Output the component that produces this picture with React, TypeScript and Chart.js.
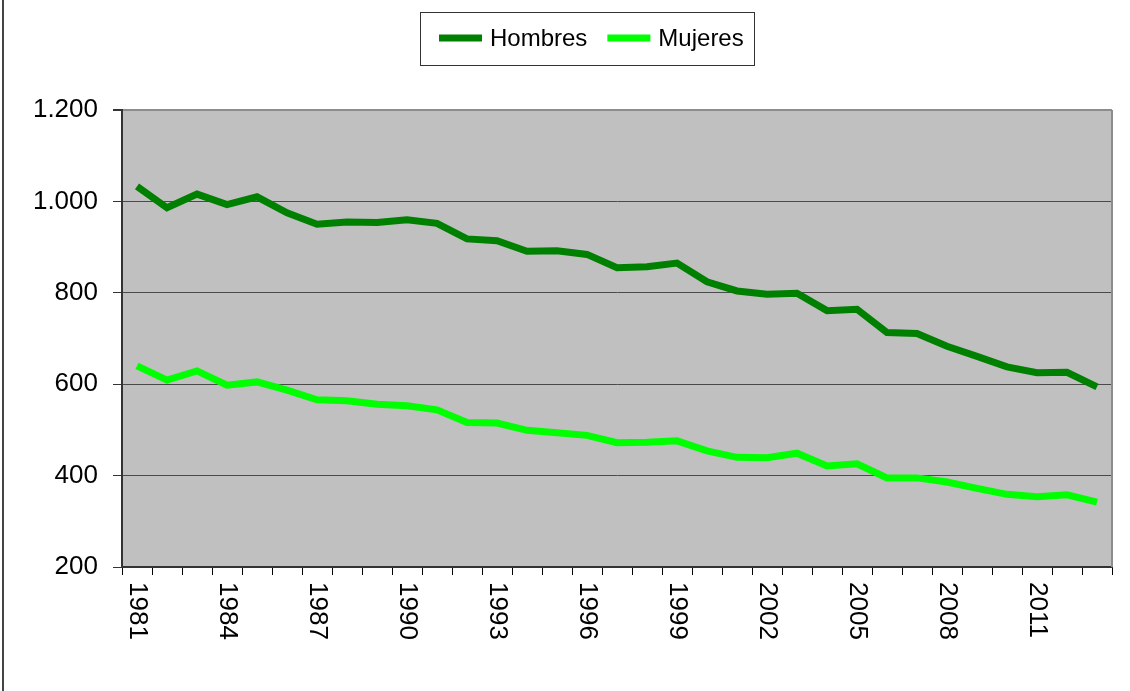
import React, { useEffect, useRef } from "react";
import { Chart, registerables } from "chart.js";

Chart.register(...registerables);

const years: string[] = [
  "1981", "1982", "1983", "1984", "1985", "1986", "1987", "1988", "1989", "1990",
  "1991", "1992", "1993", "1994", "1995", "1996", "1997", "1998", "1999", "2000",
  "2001", "2002", "2003", "2004", "2005", "2006", "2007", "2008", "2009", "2010",
  "2011", "2012", "2013",
];

const hombres: number[] = [
  1033, 986, 1016, 993, 1010, 975, 950, 955, 954, 960,
  952, 918, 914, 891, 892, 884, 855, 857, 865, 824,
  804, 797, 799, 761, 764, 713, 711, 683, 661, 638,
  625, 626, 594,
];

const mujeres: number[] = [
  640, 609, 629, 598, 605, 587, 566, 564, 556, 553,
  544, 516, 515, 499, 494, 488, 472, 473, 476, 454,
  440, 439, 449, 421, 426, 395, 395, 386, 372, 359,
  354, 358, 342,
];

const seriesNames: string[] = ["Hombres", "Mujeres"];
const yTicks: number[] = [200, 400, 600, 800, 1000, 1200];

const FONT = "'Liberation Sans', Arial, sans-serif";

function fmt(v: number): string {
  const s = String(Math.round(v));
  return s.replace(/\B(?=(\d{3})+(?!\d))/g, ".");
}

const decorPlugin = {
  id: "decor",
  beforeDraw(chart: any) {
    const { ctx, chartArea: a } = chart;
    ctx.save();
    ctx.fillStyle = "#C0C0C0";
    ctx.fillRect(a.left, a.top, a.right - a.left, a.bottom - a.top);
    ctx.restore();
  },
  beforeDatasetsDraw(chart: any) {
    const { ctx, chartArea: a } = chart;
    ctx.save();
    ctx.strokeStyle = "#8c8c8c";
    ctx.lineWidth = 2;
    ctx.beginPath();
    ctx.moveTo(a.right, a.top);
    ctx.lineTo(a.right, a.bottom);
    ctx.stroke();
    ctx.restore();
  },
  afterDraw(chart: any) {
    const { ctx, chartArea: a } = chart;
    const xs = chart.scales.x;
    ctx.save();
    ctx.fillStyle = "#000";
    ctx.font = `26px ${FONT}`;
    ctx.textAlign = "left";
    ctx.textBaseline = "middle";
    chart.data.labels.forEach((lab: string, i: number) => {
      if (i % 3 !== 0) return;
      const x = xs.getPixelForValue(i);
      ctx.save();
      ctx.translate(x, a.bottom + 15);
      ctx.rotate(Math.PI / 2);
      ctx.fillText(lab, 0, 0);
      ctx.restore();
    });
    ctx.restore();

    ctx.save();
    ctx.strokeStyle = "#333";
    ctx.lineWidth = 1;
    ctx.strokeRect(420.5, 12.5, 334, 53);
    ctx.font = `24px ${FONT}`;
    ctx.textBaseline = "middle";
    ctx.textAlign = "left";
    let x = 439;
    const y = 38;
    chart.data.datasets.forEach((ds: any) => {
      ctx.strokeStyle = ds.borderColor;
      ctx.lineWidth = 7;
      ctx.beginPath();
      ctx.moveTo(x, y);
      ctx.lineTo(x + 43, y);
      ctx.stroke();
      x += 51;
      ctx.fillStyle = "#000";
      ctx.fillText(ds.label, x, y + 1);
      x += ctx.measureText(ds.label).width + 20;
    });
    ctx.restore();
  },
};

export default function App() {
  const ref = useRef<HTMLCanvasElement | null>(null);

  useEffect(() => {
    if (!ref.current) return;
    const chart = new Chart(ref.current, {
      type: "line",
      data: {
        labels: years,
        datasets: [
          {
            label: seriesNames[0],
            data: hombres,
            borderColor: "#008000",
            backgroundColor: "#008000",
            borderWidth: 7,
            pointRadius: 0,
            tension: 0,
            fill: false,
          },
          {
            label: seriesNames[1],
            data: mujeres,
            borderColor: "#00FF00",
            backgroundColor: "#00FF00",
            borderWidth: 7,
            pointRadius: 0,
            tension: 0,
            fill: false,
          },
        ],
      },
      options: {
        animation: false,
        responsive: false,
        maintainAspectRatio: false,
        layout: { padding: { left: 0, right: 18, top: 110, bottom: 0 } },
        plugins: {
          legend: { display: false },
          tooltip: { enabled: false },
        },
        scales: {
          x: {
            type: "category",
            offset: true,
            afterFit: (s: any) => {
              s.height = 124;
            },
            grid: {
              display: true,
              offset: true,
              drawOnChartArea: false,
              drawTicks: true,
              tickLength: 8,
              color: "#000",
              lineWidth: 1,
            },
            border: { display: true, color: "#333", width: 2 },
            ticks: { display: false, autoSkip: false },
          },
          y: {
            min: 200,
            max: 1200,
            afterFit: (s: any) => {
              s.width = 122;
            },
            afterBuildTicks: (s: any) => {
              s.ticks = yTicks.map((v) => ({ value: v }));
            },
            grid: {
              color: (c: any) => (c.tick && c.tick.value === 1200 ? "#8c8c8c" : "#4a4a4a"),
              lineWidth: (c: any) => (c.tick && c.tick.value === 1200 ? 2 : 1),
              tickColor: "#333",
              tickLength: 9,
              drawTicks: true,
            },
            border: { display: true, color: "#333", width: 2 },
            ticks: {
              stepSize: 200,
              padding: 15,
              color: "#000",
              font: { family: FONT, size: 26 },
              callback: (v: any) => fmt(Number(v)),
            },
          },
        },
      },
      plugins: [decorPlugin],
    });
    return () => chart.destroy();
  }, []);

  return (
    <div style={{ position: "absolute", left: 0, top: 0, width: 1130, height: 691, background: "#fff" }}>
      <div style={{ position: "absolute", left: 2, top: 0, width: 2, height: 691, background: "#444" }} />
      <canvas ref={ref} width={1130} height={691} style={{ position: "absolute", left: 0, top: 0, width: 1130, height: 691 }} />
    </div>
  );
}
